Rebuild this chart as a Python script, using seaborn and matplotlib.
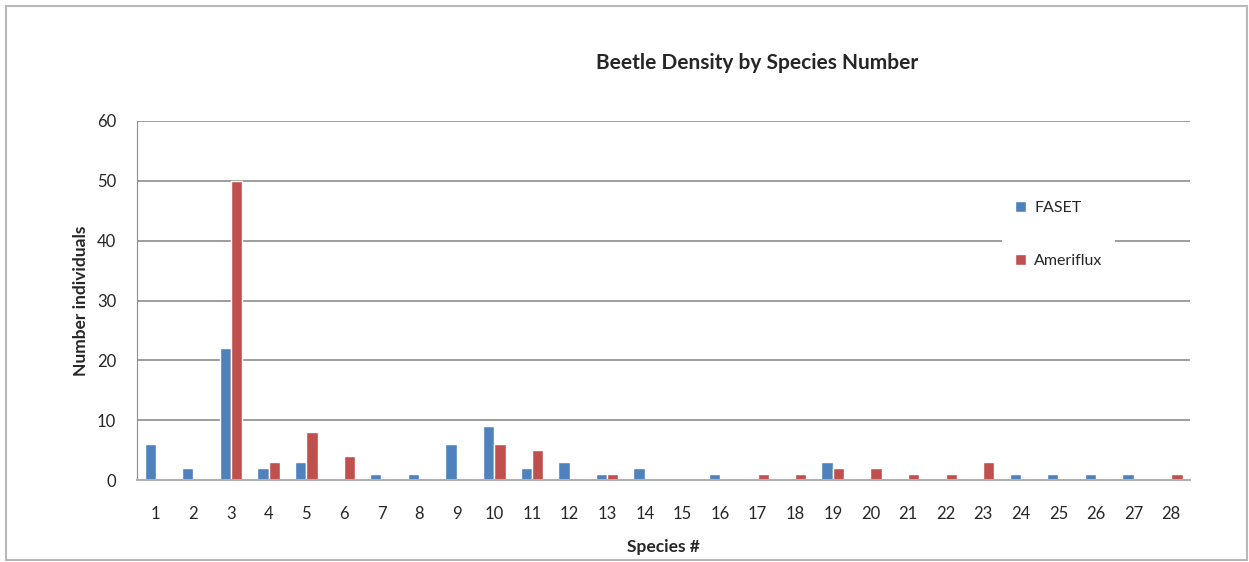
import pandas as pd
import matplotlib.pyplot as plt
import seaborn as sns
from matplotlib.patches import Rectangle


OUTPUT_PATH = "out.png"

SPECIES = [str(i) for i in range(1, 29)]

FASET = [6, 2, 22, 2, 3, 0, 1, 1, 6, 9, 2, 3, 1, 2, 0, 1, 0, 0, 3, 0, 0, 0, 0, 1, 1, 1, 1, 0]

AMERIFLUX = [0, 0, 50, 3, 8, 4, 0, 0, 0, 6, 5, 0, 1, 0, 0, 0, 1, 1, 2, 2, 1, 1, 3, 0, 0, 0, 0, 1]

SERIES_NAMES = ["FASET", "Ameriflux"]
COLORS = ["#4F81BD", "#C0504D"]
Y_TICKS = [0, 10, 20, 30, 40, 50, 60]


def plot_beetle_density():

    # long format for seaborn
    df = pd.DataFrame({
        "Species": SPECIES * 2,
        "Count": FASET + AMERIFLUX,
        "Site": [SERIES_NAMES[0]] * len(SPECIES) + [SERIES_NAMES[1]] * len(SPECIES),
    })

    sns.set_style("white")
    plt.rcParams["font.family"] = ["Lato", "DejaVu Sans"]

    fig = plt.figure(figsize=(12.49, 5.62), dpi=100)
    ax = fig.add_axes([0.1097, 0.1459, 0.8431, 0.6388])

    sns.barplot(
        data=df,
        x="Species",
        y="Count",
        hue="Site",
        palette=COLORS,
        width=0.6,
        saturation=1,
        ax=ax,
        legend=True,
    )

    ax.set_ylim(0, 60)
    ax.set_yticks(Y_TICKS)
    ax.set_xlim(-0.5, len(SPECIES) - 0.5)
    ax.yaxis.grid(True, color="#8c8c8c", linewidth=1.2)
    ax.set_axisbelow(True)

    for side in ["top", "right"]:
        ax.spines[side].set_visible(False)
    ax.spines["left"].set_color("#8c8c8c")
    ax.spines["bottom"].set_color("#b0b0b0")
    ax.spines["bottom"].set_linewidth(1.5)

    ax.tick_params(axis="y", length=7, color="#8c8c8c", width=1, labelsize=12, pad=8)
    ax.tick_params(axis="x", length=0, labelsize=12, pad=19)

    ax.set_xlabel("Species #", fontsize=12.5, fontweight="bold", labelpad=12)
    ax.set_ylabel("Number individuals", fontsize=12.5, fontweight="bold", labelpad=6)

    fig.text(0.606, 0.888, "Beetle Density by Species Number",
             ha="center", va="center", fontsize=15, fontweight="bold")

    leg = ax.legend(
        loc="upper left",
        bbox_to_anchor=(0.814, 0.835),
        frameon=True,
        facecolor="white",
        edgecolor="white",
        framealpha=1,
        fontsize=11.5,
        handlelength=0.7,
        handleheight=0.7,
        handletextpad=0.5,
        labelspacing=2.45,
        borderpad=0.8,
        fancybox=False,
    )
    leg.get_frame().set_linewidth(0)

    # outer chart border
    fig.patches.append(Rectangle(
        (0.005, 0.003), 0.993, 0.987,
        transform=fig.transFigure,
        fill=False, edgecolor="#b8b8b8", linewidth=1.5,
    ))

    plt.savefig(OUTPUT_PATH, dpi=100)


if __name__ == "__main__":

    plot_beetle_density()
